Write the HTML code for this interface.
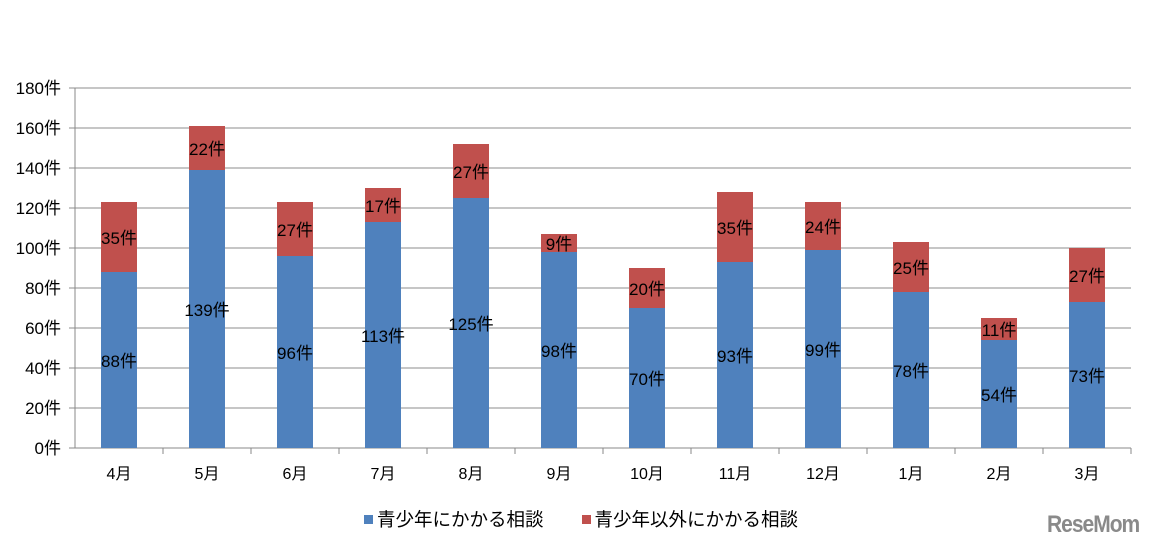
<!DOCTYPE html>
<html><head><meta charset="utf-8"><style>
body{margin:0;background:#fff;width:1158px;height:551px;overflow:hidden;font-family:"Liberation Sans","Noto Sans CJK JP",sans-serif}
</style></head><body>
<svg id="chart" width="1158" height="551" xmlns="http://www.w3.org/2000/svg" font-family="Liberation Sans, Noto Sans CJK JP, sans-serif"></svg>
<script>
const categories=['4月','5月','6月','7月','8月','9月','10月','11月','12月','1月','2月','3月'];
const youth=[88,139,96,113,125,98,70,93,99,78,54,73];
const other=[35,22,27,17,27,9,20,35,24,25,11,27];
const yTicks=[0,20,40,60,80,100,120,140,160,180];
const NS='http://www.w3.org/2000/svg';
const svg=document.getElementById('chart');
const L=75,R=1131,T=88,B=448,yMax=180;
const y=v=>B-(v/yMax)*(B-T);
const band=(R-L)/categories.length;
const xc=i=>L+band*(i+0.5);
const bw=36;
function mk(tag,attrs,parent){const e=document.createElementNS(NS,tag);for(const k in attrs)e.setAttribute(k,attrs[k]);(parent||svg).appendChild(e);return e;}
yTicks.forEach(t=>{
 const g=mk('line',{x1:L-6,x2:R,y1:y(t),y2:y(t),stroke:t===0?'#888':'#8c8c8c','stroke-width':1});
 
 
 const tx=mk('text',{x:L-14,y:y(t)+6,'text-anchor':'end','font-size':17,fill:'#000'});
 tx.textContent=t+'件';
 
 
});
const ax=mk('line',{x1:L,x2:L,y1:T,y2:B,stroke:'#888'});


categories.forEach((c,i)=>{
 const x=xc(i);
 const tk=mk('line',{x1:L+band*(i+1),x2:L+band*(i+1),y1:B,y2:B+6,stroke:'#888'});
 
 
 const b1=mk('rect',{x:x-bw/2,y:y(youth[i]),width:bw,height:B-y(youth[i]),fill:'#4f81bd'});
 
 
 const tot=youth[i]+other[i];
 const b2=mk('rect',{x:x-bw/2,y:y(tot),width:bw,height:y(youth[i])-y(tot),fill:'#c0504d'});
 
 
 const l1=mk('text',{x:x,y:y(youth[i]/2)+7,'text-anchor':'middle','font-size':17,fill:'#000'});
 l1.textContent=youth[i]+'件';
 
 
 const l2=mk('text',{x:x,y:y(youth[i]+other[i]/2)+7,'text-anchor':'middle','font-size':17,fill:'#000'});
 l2.textContent=other[i]+'件';
 
 
 const xl=mk('text',{x:x,y:479,'text-anchor':'middle','font-size':16,fill:'#000'});
 xl.textContent=c;
 
 
});
</script>
<div style="position:absolute;left:364px;top:506px;font-size:18.5px;color:#000;display:flex;align-items:center;white-space:nowrap">
 <span style="width:9px;height:9px;background:#4f81bd;margin-right:4px"></span><span>青少年にかかる相談</span>
 <span style="width:9px;height:9px;background:#c0504d;margin-left:38px;margin-right:4px"></span><span>青少年以外にかかる相談</span>
</div>
<div style="position:absolute;left:1047px;top:513px;font-size:21px;font-weight:bold;color:#8a8a8a;letter-spacing:-1px;transform:scaleY(1.15)">ReseMom</div>
</body></html>
